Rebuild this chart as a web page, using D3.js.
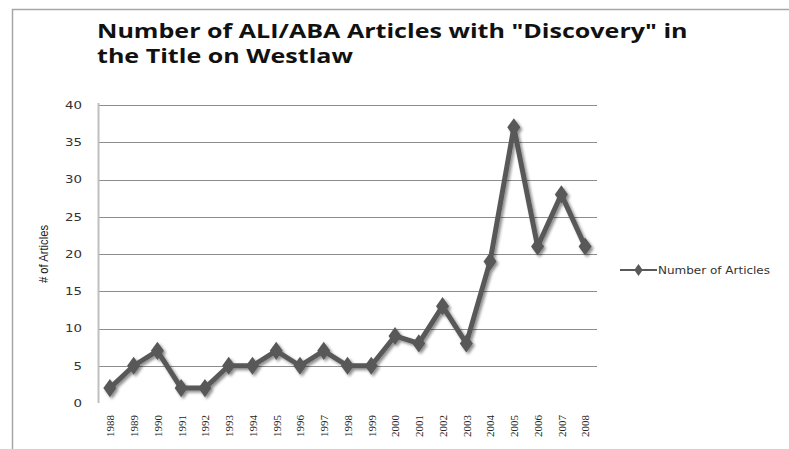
<!DOCTYPE html>
<meta charset="utf-8">
<style>
body { margin: 0; background: #fff; }
.title { font-family: "Open Sans", "Noto Sans", sans-serif; font-weight: bold; font-size: 20px; fill: #111; }
.ytick text { font-family: "DejaVu Sans", sans-serif; font-size: 10.5px; fill: #333; }
.xtick text { font-family: "Liberation Serif", serif; font-size: 11px; fill: #222; }
.grid line { stroke: #8c8c8c; stroke-width: 1; }
.legend text { font-family: "DejaVu Sans", sans-serif; font-size: 10.5px; fill: #333; }
</style>
<svg width="789" height="449"></svg>
<script src="https://d3js.org/d3.v7.min.js"></script>
<script>
var years = ["1988","1989","1990","1991","1992","1993","1994","1995","1996","1997","1998",
             "1999","2000","2001","2002","2003","2004","2005","2006","2007","2008"];
var articles = [2,5,7,2,2,5,5,7,5,7,5,5,9,8,13,8,19,37,21,28,21];
var yTicks = [0,5,10,15,20,25,30,35,40];
var seriesName = "Number of Articles";
var titleLines = ["Number of ALI/ABA Articles with \"Discovery\" in", "the Title on Westlaw"];

var svg = d3.select("svg"),
    margin = {top: 105, left: 98, right: 192, bottom: 46},
    width = 789 - margin.left - margin.right,
    height = 449 - margin.top - margin.bottom;

// frame of the chart area (cut off at right/bottom)
svg.append("path")
    .attr("d", "M12.5,449 V9.5 H789")
    .attr("fill", "none")
    .attr("stroke", "#a6a6a6")
    .attr("stroke-width", 1.5);

// title, stretched sideways like the source picture
var tg = svg.append("g");
tg.selectAll("text").data(titleLines).join("text")
    .attr("class", "title")
    .attr("x", 0)
    .attr("y", function(d, i) { return 38 + i * 25; })
    .text(function(d) { return d; });
var natural = tg.select("text").node().getComputedTextLength();
tg.attr("transform", "translate(97,0) scale(" + (591 / natural) + ",1)");

var defs = svg.append("defs");
var f = defs.append("filter").attr("id", "shadow")
    .attr("x", "-10%").attr("y", "-10%").attr("width", "130%").attr("height", "130%");
f.append("feGaussianBlur").attr("in", "SourceAlpha").attr("stdDeviation", 1.5).attr("result", "b");
f.append("feOffset").attr("in", "b").attr("dx", 1.5).attr("dy", 1.5).attr("result", "o");
f.append("feComponentTransfer").attr("in", "o").attr("result", "s")
  .append("feFuncA").attr("type", "linear").attr("slope", 0.45);
var m = f.append("feMerge");
m.append("feMergeNode").attr("in", "s");
m.append("feMergeNode").attr("in", "SourceGraphic");

var g = svg.append("g").attr("transform", "translate(" + margin.left + "," + margin.top + ")");

var x = d3.scalePoint().domain(years).range([0, width]).padding(0.5);
var y = d3.scaleLinear().domain([0, 40]).range([height, 0]);

// gridlines
g.append("g").attr("class", "grid")
  .selectAll("line").data(yTicks.filter(function(d) { return d > 0; }))
  .join("line")
    .attr("x1", 0).attr("x2", width)
    .attr("y1", function(d) { return Math.round(y(d)) + 0.5; })
    .attr("y2", function(d) { return Math.round(y(d)) + 0.5; });

// y axis
var yAxis = g.append("g").attr("class", "ytick")
    .call(d3.axisLeft(y).tickValues(yTicks).tickSize(0).tickPadding(16));
yAxis.select(".domain").remove();
yAxis.selectAll("text")
    .attr("textLength", function(d) { return String(d).length * 8.5; })
    .attr("lengthAdjust", "spacingAndGlyphs");
g.append("line").attr("x1", 0.5).attr("x2", 0.5).attr("y1", -2).attr("y2", height)
    .attr("stroke", "#bfbfbf").attr("stroke-width", 2);

// x axis labels
var xAxis = g.append("g").attr("class", "xtick")
    .attr("transform", "translate(0," + height + ")")
    .call(d3.axisBottom(x).tickSize(0));
xAxis.select(".domain").remove();
xAxis.selectAll("text")
    .attr("transform", "rotate(-90)")
    .attr("text-anchor", "end")
    .attr("dx", "-12")
    .attr("dy", "0.35em")
    .attr("x", 0).attr("y", 0);

// axis title
svg.append("text")
    .attr("transform", "translate(48," + (margin.top + height / 2) + ") rotate(-90)")
    .attr("text-anchor", "middle")
    .attr("textLength", 58)
    .attr("lengthAdjust", "spacingAndGlyphs")
    .style("font-family", "Liberation Sans Narrow, Liberation Sans, sans-serif")
    .style("font-size", "12px")
    .style("fill", "#222")
    .text("# of Articles");

var line = d3.line()
    .x(function(d, i) { return x(years[i]); })
    .y(function(d) { return y(d); });

var diamond = d3.symbol().type(d3.symbolDiamond).size(95);

var series = g.append("g").attr("filter", "url(#shadow)");
series.append("path")
    .datum(articles)
    .attr("fill", "none")
    .attr("stroke", "#595959")
    .attr("stroke-width", 5)
    .attr("stroke-linejoin", "round")
    .attr("d", line);
series.selectAll(".pt").data(articles).join("path")
    .attr("class", "pt")
    .attr("fill", "#595959")
    .attr("transform", function(d, i) { return "translate(" + x(years[i]) + "," + y(d) + ") scale(1.25,1)"; })
    .attr("d", diamond);

// legend
var lg = svg.append("g").attr("class", "legend").attr("transform", "translate(620,270)");
lg.append("line").attr("x1", 0).attr("x2", 37).attr("y1", 0).attr("y2", 0)
    .attr("stroke", "#595959").attr("stroke-width", 2);
lg.append("path").attr("transform", "translate(18.5,0) scale(1.25,1)")
    .attr("d", d3.symbol().type(d3.symbolDiamond).size(40)).attr("fill", "#595959");
lg.append("text").attr("x", 38).attr("y", 4)
    .attr("textLength", 112).attr("lengthAdjust", "spacingAndGlyphs")
    .text(seriesName);
</script>
